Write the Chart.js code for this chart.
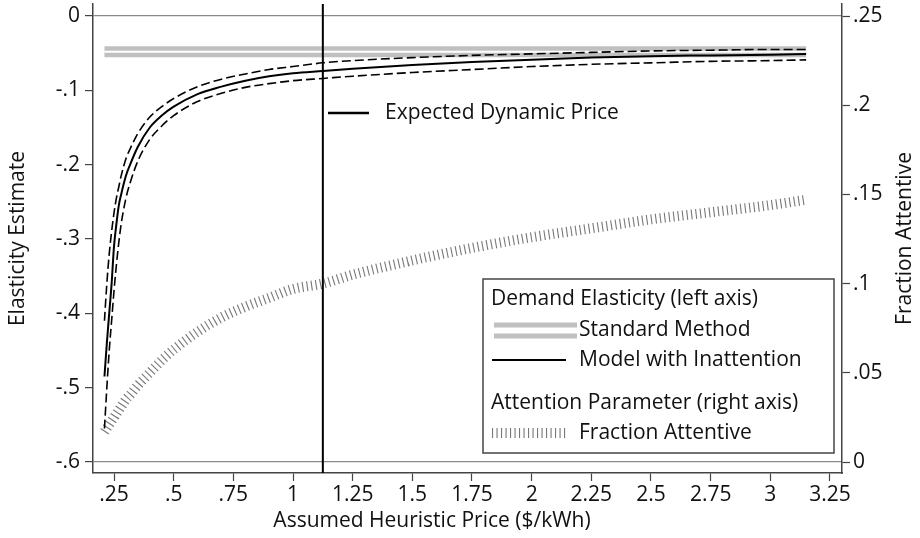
<!DOCTYPE html>
<html>
<head>
<meta charset="utf-8">
<script src="https://cdn.jsdelivr.net/npm/chart.js@4.4.1/dist/chart.umd.min.js"></script>
<style>
  html, body { margin: 0; padding: 0; background: #fff; }
  #wrap { width: 920px; height: 538px; }
</style>
</head>
<body>
<div id="wrap"><canvas id="c" width="920" height="538"></canvas></div>
<script>
// assumed heuristic price ($/kWh), x of every curve
const prices = [0.21, 0.22, 0.23, 0.24, 0.25, 0.26, 0.27, 0.28, 0.30, 0.32, 0.35, 0.40, 0.45, 0.50,
  0.60, 0.70, 0.80, 0.90, 1.00, 1.125, 1.25, 1.50, 1.75, 2.00, 2.25, 2.50, 2.75, 3.00, 3.15];

// demand elasticity, model with inattention (left axis)
const modelEstimate = [-0.485, -0.44, -0.40, -0.36, -0.31, -0.28, -0.255, -0.24, -0.215, -0.198, -0.176, -0.150, -0.134, -0.122,
  -0.105, -0.095, -0.087, -0.081, -0.077, -0.074, -0.071, -0.066, -0.062, -0.059, -0.056, -0.054, -0.053, -0.052, -0.051];
const modelUpper = [-0.41, -0.36, -0.32, -0.29, -0.265, -0.245, -0.23, -0.215, -0.192, -0.177, -0.158, -0.136, -0.122, -0.111,
  -0.095, -0.085, -0.078, -0.072, -0.068, -0.063, -0.060, -0.056, -0.053, -0.051, -0.049, -0.047, -0.046, -0.045, -0.045];
const modelLower = [-0.555, -0.50, -0.45, -0.41, -0.37, -0.335, -0.305, -0.28, -0.245, -0.222, -0.195, -0.166, -0.148, -0.134,
  -0.115, -0.104, -0.096, -0.091, -0.087, -0.084, -0.081, -0.076, -0.072, -0.068, -0.065, -0.063, -0.061, -0.060, -0.059];

// demand elasticity, standard method (flat)
const standardEstimate = prices.map(() => -0.048);

// fraction attentive (right axis)
const fractionAttentive = [0.017, 0.019, 0.021, 0.023, 0.025, 0.027, 0.029, 0.031, 0.035, 0.038, 0.043, 0.050, 0.057, 0.063,
  0.073, 0.081, 0.087, 0.092, 0.097, 0.100, 0.105, 0.113, 0.120, 0.126, 0.131, 0.136, 0.140, 0.144, 0.147];

const expectedDynamicPrice = 1.125;

const xTicks = [0.25, 0.5, 0.75, 1, 1.25, 1.5, 1.75, 2, 2.25, 2.5, 2.75, 3, 3.25];
const xTickLabels = [".25", ".5", ".75", "1", "1.25", "1.5", "1.75", "2", "2.25", "2.5", "2.75", "3", "3.25"];
const yTicks = [0, -0.1, -0.2, -0.3, -0.4, -0.5, -0.6];
const yTickLabels = ["0", "-.1", "-.2", "-.3", "-.4", "-.5", "-.6"];
const y2Ticks = [0, 0.05, 0.1, 0.15, 0.2, 0.25];
const y2TickLabels = ["0", ".05", ".1", ".15", ".2", ".25"];

const FONT = '"Open Sans", "Noto Sans", sans-serif';
const FS = 21;
const INK = "#111";
const AXIS = "#444";

const pts = (ys) => prices.map((x, i) => ({ x: x, y: ys[i] }));

// legend, titles and the price label
const extras = {
  id: "extras",
  afterDraw(chart) {
    const c = chart.ctx;
    const area = chart.chartArea;
    c.save();
    c.fillStyle = INK;
    c.font = FS + "px " + FONT;
    c.textBaseline = "middle";

    // axis titles
    const midY = (area.top + area.bottom) / 2;
    c.textAlign = "center";
    c.save(); c.translate(18, midY); c.rotate(-Math.PI / 2); c.fillText("Elasticity Estimate", 0, 0); c.restore();
    c.save(); c.translate(905, midY); c.rotate(-Math.PI / 2); c.fillText("Fraction Attentive", 0, 0); c.restore();
    c.fillText("Assumed Heuristic Price ($/kWh)", 432, 521);

    // expected dynamic price label
    c.textAlign = "left";
    c.strokeStyle = "#000";
    c.lineWidth = 2.5;
    c.beginPath(); c.moveTo(328, 113); c.lineTo(369, 113); c.stroke();
    c.fillText("Expected Dynamic Price", 385, 113);

    // legend box
    c.fillStyle = "#fff";
    c.fillRect(483, 279, 351, 174);
    c.strokeStyle = AXIS;
    c.lineWidth = 1.5;
    c.strokeRect(483, 279, 351, 174);
    c.fillStyle = INK;
    c.fillText("Demand Elasticity (left axis)", 491, 299);
    // standard method sample
    c.strokeStyle = "#c0c0c0";
    c.lineWidth = 5;
    c.beginPath(); c.moveTo(494, 325); c.lineTo(577, 325); c.stroke();
    c.beginPath(); c.moveTo(494, 336); c.lineTo(577, 336); c.stroke();
    c.fillText("Standard Method", 579, 330);
    c.strokeStyle = "#000";
    c.lineWidth = 2;
    c.beginPath(); c.moveTo(492, 360); c.lineTo(566, 360); c.stroke();
    c.fillText("Model with Inattention", 579, 360);
    c.fillText("Attention Parameter (right axis)", 491, 403);
    c.strokeStyle = "#777";
    c.lineWidth = 10;
    c.setLineDash([1.1, 3.4]);
    c.beginPath(); c.moveTo(492, 433); c.lineTo(567, 433); c.stroke();
    c.setLineDash([]);
    c.fillText("Fraction Attentive", 579, 433);
    c.restore();
  }
};

const lineBase = { showLine: true, pointRadius: 0, fill: false, cubicInterpolationMode: "monotone" };
const noPad = (s) => { s.paddingTop = 0; s.paddingBottom = 0; };

new Chart(document.getElementById("c"), {
  type: "scatter",
  data: {
    datasets: [
      // first listed is drawn on top
      { ...lineBase, label: "Expected Dynamic Price", cubicInterpolationMode: "default",
        data: [{ x: expectedDynamicPrice, y: 0.02 }, { x: expectedDynamicPrice, y: -0.62 }],
        borderColor: "#000", borderWidth: 2 },
      { ...lineBase, label: "Model with Inattention", data: pts(modelEstimate), borderColor: "#000", borderWidth: 2 },
      { ...lineBase, label: "Upper", data: pts(modelUpper), borderColor: "#000", borderWidth: 1.6, borderDash: [9, 4] },
      { ...lineBase, label: "Lower", data: pts(modelLower), borderColor: "#000", borderWidth: 1.6, borderDash: [9, 4] },
      { ...lineBase, label: "Fraction Attentive", data: pts(fractionAttentive), yAxisID: "y2",
        borderColor: "#777", borderWidth: 10, borderDash: [1.1, 3.4], borderCapStyle: "butt" },
      { ...lineBase, label: "Standard core", data: pts(standardEstimate), borderColor: "#fff", borderWidth: 2 },
      { ...lineBase, label: "Standard Method", data: pts(standardEstimate), borderColor: "#c0c0c0", borderWidth: 11 }
    ]
  },
  options: {
    responsive: false,
    animation: false,
    devicePixelRatio: 1,
    layout: { padding: { top: 4, left: 0, right: 0, bottom: 0 } },
    plugins: { legend: { display: false }, tooltip: { enabled: false } },
    scales: {
      x: {
        type: "linear",
        min: 0.162, max: 3.3003,
        afterFit: (s) => { s.height = 65; s.paddingLeft = 0; s.paddingRight = 0; },
        afterBuildTicks: (s) => { s.ticks = xTicks.map((v) => ({ value: v })); },
        ticks: { color: INK, font: { family: FONT, size: FS }, padding: 1, maxRotation: 0, autoSkip: false,
          callback: (v, i) => xTickLabels[i] },
        grid: { drawOnChartArea: false, tickLength: 8, tickColor: AXIS, tickWidth: 1.2 },
        border: { display: true, color: AXIS, width: 1.5 }
      },
      y: {
        type: "linear",
        position: "left",
        min: -0.6148, max: 0.01614,
        afterFit: (s) => { s.width = 93; noPad(s); },
        afterBuildTicks: (s) => { s.ticks = yTicks.map((v) => ({ value: v })); },
        ticks: { color: INK, font: { family: FONT, size: FS }, padding: 5, autoSkip: false,
          callback: (v, i) => yTickLabels[i] },
        grid: {
          color: (ctx) => (ctx.tick && (ctx.tick.value === 0 || ctx.tick.value === -0.6)) ? "#8a8a8a" : "rgba(0,0,0,0)",
          lineWidth: 1.2, tickLength: 8, tickColor: AXIS, tickWidth: 1.2
        },
        border: { display: true, color: AXIS, width: 1.5 }
      },
      y2: {
        type: "linear",
        position: "right",
        min: -0.006166, max: 0.25673,
        afterFit: (s) => { s.width = 78; noPad(s); },
        afterBuildTicks: (s) => { s.ticks = y2Ticks.map((v) => ({ value: v })); },
        ticks: { color: INK, font: { family: FONT, size: FS }, padding: 3, autoSkip: false,
          callback: (v, i) => y2TickLabels[i] },
        grid: { drawOnChartArea: false, tickLength: 8, tickColor: AXIS, tickWidth: 1.2 },
        border: { display: true, color: AXIS, width: 1.5 }
      }
    }
  },
  plugins: [extras]
});
</script>
</body>
</html>
